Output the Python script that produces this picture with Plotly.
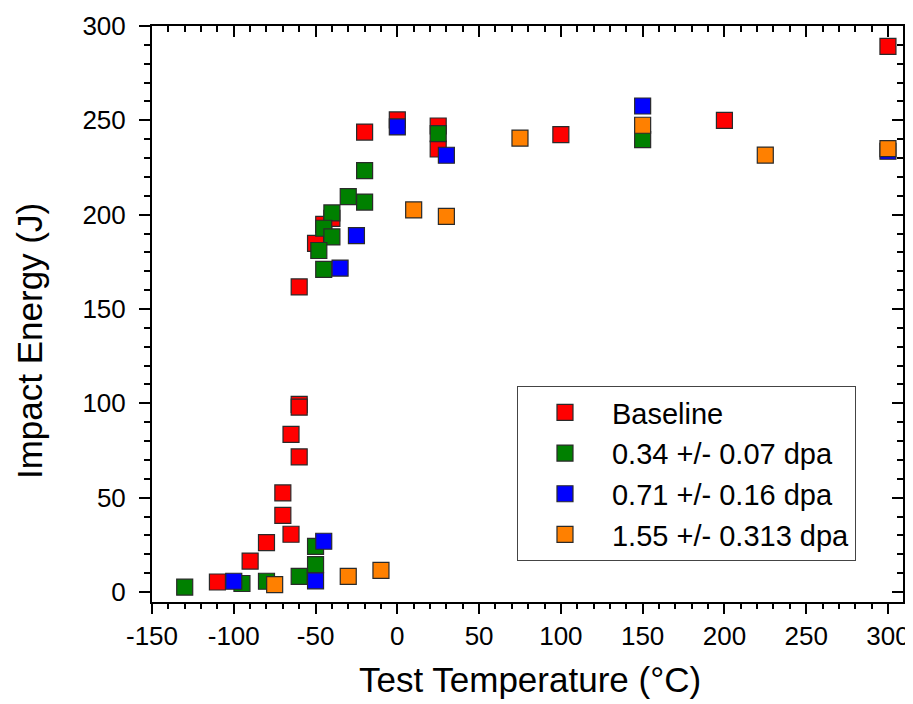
import plotly.graph_objects as go

# ---- data ----
base_x = [-110, -90, -80, -70, -70, -65, -65, -60, -60, -60, -60, -50, -45, -40, -20, 0, 25, 25, 100, 200, 300]
base_y = [5.3, 16.4, 26.2, 52.5, 40.6, 30.6, 83.6, 99.5, 98.0, 71.6, 161.7, 184.8, 194.9, 198, 243.8, 250.2, 247, 234.8, 242.4, 250.0, 289.2]

g_x = [-130, -95, -80, -60, -50, -50, -20, -30, -20, -40, -45, -40, -48, -45, 25, 150]
g_y = [2.6, 4.5, 5.7, 8.3, 14.5, 24.2, 223.3, 209.6, 206.7, 200.9, 192.8, 188.2, 181.0, 171.0, 243.0, 239.8]

b_x = [-100, -50, -45, -35, -25, 0, 30, 150, 300]
b_y = [5.7, 5.9, 26.9, 171.7, 188.9, 246.5, 231.5, 257.6, 233.6]

o_x = [-75, -30, -10, 10, 30, 75, 150, 225, 300]
o_y = [3.9, 8.3, 11.5, 202.5, 199.1, 240.6, 247.4, 231.6, 235.0]

names = ["Baseline", "0.34 +/- 0.07 dpa", "0.71 +/- 0.16 dpa", "1.55 +/- 0.313 dpa"]
colors = ["#FF0000", "#008000", "#0000FF", "#FF8000"]

x_ticks = [-150, -100, -50, 0, 50, 100, 150, 200, 250, 300]
x_ticklabels = ["-150", "-100", "-50", "0", "50", "100", "150", "200", "250", "300"]
y_ticks = [0, 50, 100, 150, 200, 250, 300]
y_ticklabels = ["0", "50", "100", "150", "200", "250", "300"]

x_title = "Test Temperature (°C)"
y_title = "Impact Energy (J)"

x_range = [-150, 309.2]
y_range = [-5.3, 300]

FONT = "Liberation Sans, Arial, sans-serif"

fig = go.Figure()
series = [(base_x, base_y), (g_x, g_y), (b_x, b_y), (o_x, o_y)]
for (xs, ys), nm, col in zip(series, names, colors):
    fig.add_trace(go.Scatter(
        x=xs, y=ys, mode="markers", name=nm, legendgroup=nm,
        marker=dict(symbol="square", size=16, color=col,
                    line=dict(color="#2a2a2a", width=1.2)),
    ))

# invisible trace to anchor the mirrored (inward-tick) axes
fig.add_trace(go.Scatter(x=[None], y=[None], xaxis="x2", yaxis="y2",
                         showlegend=False, hoverinfo="skip"))

tickfont = dict(family=FONT, size=26, color="black")

# the page body has an 8px margin, so the figure is 8px smaller than the window
fig.update_layout(
    width=905, height=696,
    paper_bgcolor="white", plot_bgcolor="white",
    margin=dict(l=144, r=10, t=18, b=102),
    font=dict(family=FONT, color="black"),
    xaxis=dict(
        range=x_range, tickmode="array", tickvals=x_ticks, ticktext=x_ticklabels,
        ticks="outside", ticklen=10, tickwidth=2, ticklabelstandoff=0,
        tickcolor="black", showline=True, linewidth=2, linecolor="black", mirror=True,
        showgrid=False, zeroline=False, tickfont=tickfont, automargin=False,
        minor=dict(ticks="outside", tick0=-150, dtick=10, ticklen=5, tickwidth=2, tickcolor="black", showgrid=False),
    ),
    yaxis=dict(
        range=y_range, tickmode="array", tickvals=y_ticks, ticktext=y_ticklabels,
        ticks="outside", ticklen=11, tickwidth=2, ticklabelstandoff=8,
        tickcolor="black", showline=True, linewidth=2, linecolor="black", mirror=True,
        showgrid=False, zeroline=False, tickfont=tickfont, automargin=False,
        minor=dict(ticks="outside", tick0=0, dtick=10, ticklen=6, tickwidth=2, tickcolor="black", showgrid=False),
    ),
    xaxis2=dict(
        overlaying="x", side="top", anchor="y", range=x_range, tick0=-150, dtick=50,
        ticks="inside", ticklen=11, tickwidth=2, tickcolor="black", showticklabels=False,
        showline=False, showgrid=False, zeroline=False, automargin=False,
        minor=dict(ticks="inside", tick0=-150, dtick=10, ticklen=6, tickwidth=2, tickcolor="black", showgrid=False),
    ),
    yaxis2=dict(
        overlaying="y", side="right", anchor="x", range=y_range, tick0=0, dtick=50,
        ticks="inside", ticklen=11, tickwidth=2, tickcolor="black", showticklabels=False,
        showline=False, showgrid=False, zeroline=False, automargin=False,
        minor=dict(ticks="inside", tick0=0, dtick=10, ticklen=6, tickwidth=2, tickcolor="black", showgrid=False),
    ),
    legend=dict(
        x=0.486, y=0.375, xanchor="left", yanchor="top",
        bgcolor="white", bordercolor="#444", borderwidth=1,
        font=dict(family=FONT, size=29, color="black"),
        traceorder="grouped", tracegroupgap=0, itemwidth=84,
    ),
    showlegend=True,
    annotations=[
        dict(text=x_title, xref="paper", yref="paper", x=0.5033, y=-0.135,
             xanchor="center", yanchor="middle", showarrow=False,
             font=dict(family=FONT, size=35, color="black")),
        dict(text=y_title, xref="paper", yref="paper", x=-0.1638, y=0.453,
             xanchor="center", yanchor="middle", showarrow=False, textangle=-90,
             font=dict(family=FONT, size=35, color="black")),
    ],
)

fig.write_html("out.html")
